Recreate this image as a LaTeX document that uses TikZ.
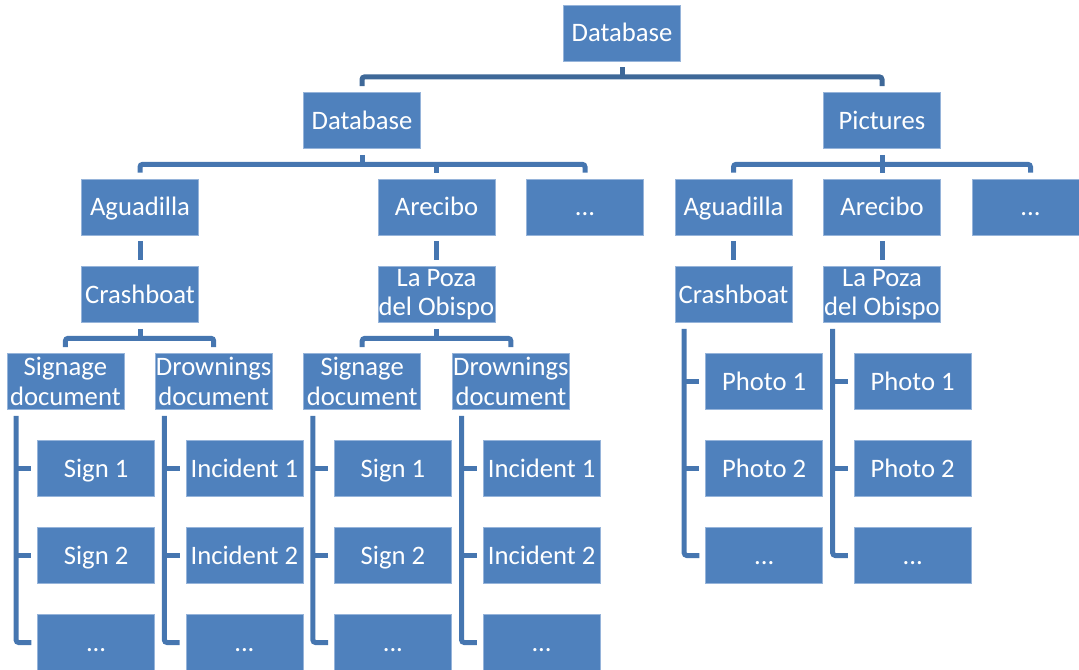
\documentclass[tikz,border=0pt]{standalone}
\usepackage{fontspec}
\setmainfont{Carlito}
\usetikzlibrary{calc}
\definecolor{boxblue}{RGB}{79,129,189}
\definecolor{boxedge}{RGB}{150,180,218}
\definecolor{conntop}{RGB}{62,104,152}
\definecolor{connclr}{RGB}{70,118,176}
\tikzset{
  box/.style={fill=boxblue, draw=boxedge, line width=0.5pt, text=white,
    minimum width=87.75pt, minimum height=42pt, inner sep=0pt,
    font=\fontsize{20}{22}\selectfont, align=center},
  one/.style={box, text height=12.9pt, text depth=0pt},
  two/.style={box},
  conn/.style={draw=connclr, line width=3.75pt, rounded corners=2pt},
  conntopst/.style={draw=conntop, line width=3.75pt, rounded corners=2pt}
}
\begin{document}
\begin{tikzpicture}[x=0.75pt,y=-0.75pt]
\useasboundingbox (0,0) rectangle (1079,669);
\clip (0,0) rectangle (1079,669);
% top levels
\node[one] (db0) at (622,33) {Database};
\node[one] (db1) at (362,120.5) {Database};
\node[one] (pic) at (882,120.5) {Pictures};
\node[one] (agL) at (140,207) {Aguadilla};
\node[one] (arL) at (436.5,207) {Arecibo};
\node[one] (dL) at (585,207) {...};
\node[one] (agR) at (733.5,207) {Aguadilla};
\node[one] (arR) at (882,207) {Arecibo};
\node[one] (dR) at (1030.5,207) {...};
\node[one] (crL) at (140,294.5) {Crashboat};
\node[two] (lpL) at (436.5,294.5) {La Poza\\del Obispo};
\node[one] (crR) at (733.5,294.5) {Crashboat};
\node[two] (lpR) at (882,294.5) {La Poza\\del Obispo};
\node[two] (sgA) at (65.4,381.5) {Signage\\document};
\node[two] (drA) at (213.7,381.5) {Drownings\\document};
\node[two] (sgB) at (362.2,381.5) {Signage\\document};
\node[two] (drB) at (510.9,381.5) {Drownings\\document};
% lists left
\node[one] (sgA1) at (96.1,468.5) {Sign 1};
\node[one] (sgA2) at (96.1,555.5) {Sign 2};
\node[one] (sgA3) at (96.1,642.5) {...};
\node[one] (drA1) at (244.4,468.5) {Incident 1};
\node[one] (drA2) at (244.4,555.5) {Incident 2};
\node[one] (drA3) at (244.4,642.5) {...};
\node[one] (sgB1) at (392.9,468.5) {Sign 1};
\node[one] (sgB2) at (392.9,555.5) {Sign 2};
\node[one] (sgB3) at (392.9,642.5) {...};
\node[one] (drB1) at (541.6,468.5) {Incident 1};
\node[one] (drB2) at (541.6,555.5) {Incident 2};
\node[one] (drB3) at (541.6,642.5) {...};
% lists right
\node[one] (crR1) at (764.2,381.5) {Photo 1};
\node[one] (crR2) at (764.2,468.5) {Photo 2};
\node[one] (crR3) at (764.2,555.5) {...};
\node[one] (lpR1) at (912.7,381.5) {Photo 1};
\node[one] (lpR2) at (912.7,468.5) {Photo 2};
\node[one] (lpR3) at (912.7,555.5) {...};
% connectors: top
\draw[conntopst] ($(db0.south)+(0,6)$) -- ($(db0.south)+(0,15.5)$);
\draw[conntopst] ($(db1.north)+(0,-6)$) |- ($(db0.south)+(0,15.5)$) -| ($(pic.north)+(0,-6)$);
% db1 -> level2
\draw[conn] ($(db1.south)+(0,6)$) -- ($(db1.south)+(0,15.5)$);
\draw[conn] ($(agL.north)+(0,-6)$) |- ($(db1.south)+(0,15.5)$) -| ($(dL.north)+(0,-6)$);
\draw[conn] ($(arL.north)+(0,-6)$) -- ($(arL.north)+(0,-15.5)$);
% pic -> level2
\draw[conn] ($(pic.south)+(0,6)$) -- ($(pic.south)+(0,15.5)$);
\draw[conn] ($(agR.north)+(0,-6)$) |- ($(pic.south)+(0,15.5)$) -| ($(dR.north)+(0,-6)$);
\draw[conn] ($(arR.north)+(0,-6)$) -- ($(arR.north)+(0,-15.5)$);
% level2 -> level3
\draw[conn] ($(agL.south)+(0,6)$) -- ($(crL.north)+(0,-6)$);
\draw[conn] ($(arL.south)+(0,6)$) -- ($(lpL.north)+(0,-6)$);
\draw[conn] ($(agR.south)+(0,6)$) -- ($(crR.north)+(0,-6)$);
\draw[conn] ($(arR.south)+(0,6)$) -- ($(lpR.north)+(0,-6)$);
% level3 -> level4
\draw[conn] ($(crL.south)+(0,6)$) -- ($(crL.south)+(0,15.5)$);
\draw[conn] ($(sgA.north)+(0,-6)$) |- ($(crL.south)+(0,15.5)$) -| ($(drA.north)+(0,-6)$);
\draw[conn] ($(lpL.south)+(0,6)$) -- ($(lpL.south)+(0,15.5)$);
\draw[conn] ($(sgB.north)+(0,-6)$) |- ($(lpL.south)+(0,15.5)$) -| ($(drB.north)+(0,-6)$);
% vertical lists
\foreach \p in {sgA,drA,sgB,drB,crR,lpR}{
  \coordinate (\p-l) at ($(\p.south west)+(9.5,6)$);
  \draw[conn] (\p-l) |- ($(\p3.west)+(-6,0)$);
  \draw[conn] (\p-l |- \p1.west) -- ($(\p1.west)+(-6,0)$);
  \draw[conn] (\p-l |- \p2.west) -- ($(\p2.west)+(-6,0)$);
}
\end{tikzpicture}
\end{document}
